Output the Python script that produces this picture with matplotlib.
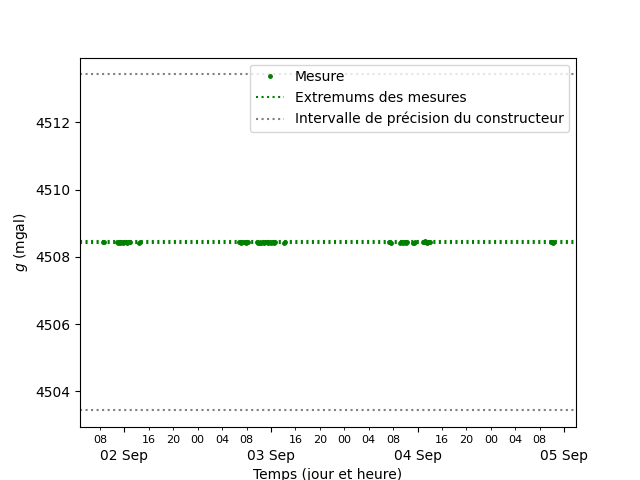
import numpy as np
import pandas as pd
import matplotlib
matplotlib.use('Agg')
import matplotlib.pyplot as plt
import matplotlib.dates as mdates

# heures des mesures
temps = pd.to_datetime([
    '2021-09-02 08:25', '2021-09-02 08:35',
    '2021-09-02 10:45', '2021-09-02 10:55', '2021-09-02 11:05', '2021-09-02 11:15',
    '2021-09-02 11:25', '2021-09-02 11:35', '2021-09-02 11:45', '2021-09-02 11:55',
    '2021-09-02 12:05', '2021-09-02 12:15', '2021-09-02 12:25', '2021-09-02 12:35',
    '2021-09-02 12:45', '2021-09-02 12:55',
    '2021-09-02 14:25', '2021-09-02 14:35',
    '2021-09-03 06:45', '2021-09-03 06:55', '2021-09-03 07:05', '2021-09-03 07:15',
    '2021-09-03 07:25', '2021-09-03 07:40', '2021-09-03 07:50', '2021-09-03 08:05',
    '2021-09-03 08:15',
    '2021-09-03 09:45', '2021-09-03 09:55', '2021-09-03 10:05', '2021-09-03 10:15',
    '2021-09-03 10:25', '2021-09-03 10:40', '2021-09-03 10:50', '2021-09-03 11:00',
    '2021-09-03 11:10', '2021-09-03 11:25', '2021-09-03 11:35', '2021-09-03 11:50',
    '2021-09-03 12:00', '2021-09-03 12:10', '2021-09-03 12:20', '2021-09-03 12:30',
    '2021-09-03 12:40',
    '2021-09-03 14:05', '2021-09-03 14:15',
    '2021-09-04 07:20', '2021-09-04 07:30', '2021-09-04 07:40',
    '2021-09-04 09:10', '2021-09-04 09:20', '2021-09-04 09:30', '2021-09-04 09:40',
    '2021-09-04 09:50', '2021-09-04 10:00', '2021-09-04 10:10', '2021-09-04 10:20',
    '2021-09-04 11:15', '2021-09-04 11:25', '2021-09-04 11:35',
    '2021-09-04 12:50', '2021-09-04 13:00', '2021-09-04 13:10', '2021-09-04 13:25',
    '2021-09-04 13:35', '2021-09-04 13:50', '2021-09-04 14:05',
    '2021-09-05 09:55', '2021-09-05 10:00', '2021-09-05 10:05', '2021-09-05 10:10',
    '2021-09-05 10:15',
])
# valeurs de g mesurées (mgal)
g_mesure = [
    4508.43, 4508.44,
    4508.44, 4508.42, 4508.43, 4508.41, 4508.44, 4508.43, 4508.42, 4508.44,
    4508.43, 4508.45, 4508.42, 4508.43, 4508.44, 4508.43,
    4508.42, 4508.44,
    4508.44, 4508.43, 4508.42, 4508.44, 4508.43, 4508.45, 4508.42, 4508.43,
    4508.44,
    4508.43, 4508.41, 4508.42, 4508.44, 4508.40, 4508.43, 4508.42, 4508.44,
    4508.43, 4508.45, 4508.41, 4508.43, 4508.42, 4508.44, 4508.43, 4508.41,
    4508.43,
    4508.41, 4508.43,
    4508.44, 4508.43, 4508.42,
    4508.42, 4508.44, 4508.43, 4508.41, 4508.43, 4508.45, 4508.42, 4508.44,
    4508.40, 4508.42, 4508.43,
    4508.44, 4508.43, 4508.46, 4508.44, 4508.42, 4508.45, 4508.43,
    4508.43, 4508.44, 4508.43, 4508.42, 4508.44,
]
g_moyen = 4508.43
precision = 5.0

fig, ax = plt.subplots()
ax.plot(temps, g_mesure, 'g.', markersize=5, label='Mesure')
ax.axhline(min(g_mesure), color='g', linestyle=':', label='Extremums des mesures')
ax.axhline(max(g_mesure), color='g', linestyle=':')
ax.axhline(g_moyen + precision, color='grey', linestyle=':',
           label='Intervalle de précision du constructeur')
ax.axhline(g_moyen - precision, color='grey', linestyle=':')

ax.xaxis.set_major_locator(mdates.HourLocator(byhour=12))
ax.xaxis.set_major_formatter(mdates.DateFormatter('%d %b'))
ax.xaxis.set_minor_locator(mdates.HourLocator(byhour=range(0, 24, 4)))
ax.xaxis.set_minor_formatter(mdates.DateFormatter('%H'))
ax.tick_params(axis='x', which='minor', labelsize=8)
ax.tick_params(axis='x', which='major', pad=12)

ax.set_xlabel('Temps (jour et heure)')
ax.set_ylabel('$g$ (mgal)')
ax.legend(loc='upper right')

plt.savefig('out.png', dpi=100)
